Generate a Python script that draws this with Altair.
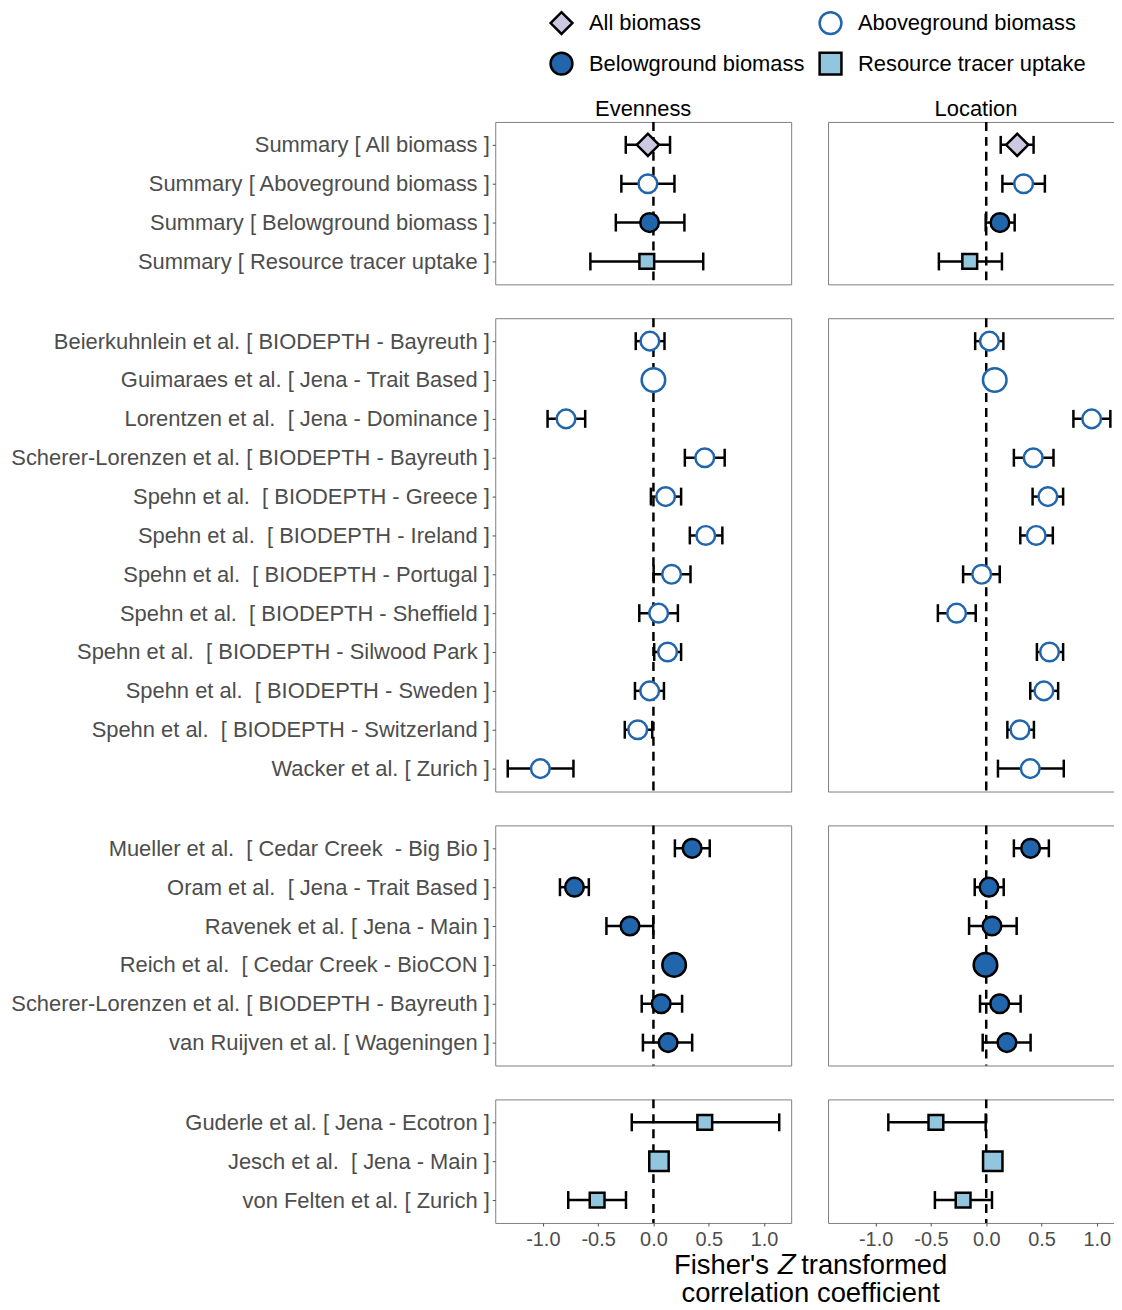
import altair as alt
import pandas as pd

FONT = "Liberation Sans"
SP2 = "\u00a0 "  # keeps the double spaces of the original labels

TYPES = ["All biomass", "Aboveground biomass", "Belowground biomass", "Resource tracer uptake"]
SHAPES = ["diamond", "circle", "circle", "square"]
FILLS = ["#cbc9e2", "#ffffff", "#2166ac", "#92c5de"]
STROKES = ["#000000", "#2166ac", "#000000", "#000000"]

# ---- Group 1: summaries ----
g1_labels = [
    "Summary [ All biomass ]",
    "Summary [ Aboveground biomass ]",
    "Summary [ Belowground biomass ]",
    "Summary [ Resource tracer uptake ]",
]
g1_types = ["All biomass", "Aboveground biomass", "Belowground biomass", "Resource tracer uptake"]
g1_even_est = [-0.05, -0.05, -0.035, -0.06]
g1_even_lo = [-0.25, -0.29, -0.34, -0.57]
g1_even_hi = [0.15, 0.19, 0.28, 0.45]
g1_loc_est = [0.28, 0.338, 0.124, -0.149]
g1_loc_lo = [0.131, 0.146, -0.005, -0.428]
g1_loc_hi = [0.428, 0.53, 0.257, 0.142]

# ---- Group 2: aboveground biomass studies ----
g2_labels = [
    "Beierkuhnlein et al. [ BIODEPTH - Bayreuth ]",
    "Guimaraes et al. [ Jena - Trait Based ]",
    "Lorentzen et al." + SP2 + "[ Jena - Dominance ]",
    "Scherer-Lorenzen et al. [ BIODEPTH - Bayreuth ]",
    "Spehn et al." + SP2 + "[ BIODEPTH - Greece ]",
    "Spehn et al." + SP2 + "[ BIODEPTH - Ireland ]",
    "Spehn et al." + SP2 + "[ BIODEPTH - Portugal ]",
    "Spehn et al." + SP2 + "[ BIODEPTH - Sheffield ]",
    "Spehn et al." + SP2 + "[ BIODEPTH - Silwood Park ]",
    "Spehn et al." + SP2 + "[ BIODEPTH - Sweden ]",
    "Spehn et al." + SP2 + "[ BIODEPTH - Switzerland ]",
    "Wacker et al. [ Zurich ]",
]
g2_types = ["Aboveground biomass"] * 12
g2_even_est = [-0.032, 0.0, -0.79, 0.464, 0.11, 0.473, 0.164, 0.047, 0.128, -0.034, -0.142, -1.022]
g2_even_lo = [-0.16, None, -0.957, 0.284, -0.023, 0.329, 0.002, -0.128, 0.007, -0.167, -0.259, -1.317]
g2_even_hi = [0.10, None, -0.617, 0.644, 0.25, 0.623, 0.335, 0.221, 0.25, 0.095, -0.011, -0.723]
g2_loc_est = [0.029, 0.077, 0.953, 0.425, 0.557, 0.452, -0.041, -0.268, 0.572, 0.521, 0.305, 0.398]
g2_loc_lo = [-0.10, None, 0.788, 0.25, 0.419, 0.308, -0.209, -0.437, 0.458, 0.398, 0.191, 0.106]
g2_loc_hi = [0.155, None, 1.122, 0.608, 0.695, 0.602, 0.122, -0.095, 0.695, 0.65, 0.431, 0.701]

# ---- Group 3: belowground biomass studies ----
g3_labels = [
    "Mueller et al." + SP2 + "[ Cedar Creek" + SP2 + "- Big Bio ]",
    "Oram et al." + SP2 + "[ Jena - Trait Based ]",
    "Ravenek et al. [ Jena - Main ]",
    "Reich et al." + SP2 + "[ Cedar Creek - BioCON ]",
    "Scherer-Lorenzen et al. [ BIODEPTH - Bayreuth ]",
    "van Ruijven et al. [ Wageningen ]",
]
g3_types = ["Belowground biomass"] * 6
g3_even_est = [0.35, -0.714, -0.212, 0.187, 0.07, 0.133]
g3_even_lo = [0.194, -0.845, -0.425, None, -0.106, -0.095]
g3_even_hi = [0.509, -0.584, -0.002, None, 0.259, 0.35]
g3_loc_est = [0.401, 0.025, 0.052, -0.007, 0.122, 0.187]
g3_loc_lo = [0.25, -0.104, -0.155, None, -0.056, -0.032]
g3_loc_hi = [0.566, 0.158, 0.275, None, 0.311, 0.401]

# ---- Group 4: resource tracer uptake studies ----
g4_labels = [
    "Guderle et al. [ Jena - Ecotron ]",
    "Jesch et al." + SP2 + "[ Jena - Main ]",
    "von Felten et al. [ Zurich ]",
]
g4_types = ["Resource tracer uptake"] * 3
g4_even_est = [0.464, 0.05, -0.509]
g4_even_lo = [-0.196, None, -0.77]
g4_even_hi = [1.137, None, -0.248]
g4_loc_est = [-0.455, 0.059, -0.209]
g4_loc_lo = [-0.885, None, -0.464]
g4_loc_hi = [-0.005, None, 0.052]

TICKS = [-1.0, -0.5, 0.0, 0.5, 1.0]
X_DOMAIN = [-1.43, 1.245]

SIZE_EXPR = (
    "datum.type == 'All biomass' ? 500 : "
    "datum.type == 'Resource tracer uptake' ? (isValid(datum.lo) ? 220 : 380) : "
    "(isValid(datum.lo) ? 350 : 560)"
)


def panel(labels, types, est, lo, hi, left, title, bottom):
    n = len(labels)
    df = pd.DataFrame({"label": labels, "type": types, "est": est, "lo": lo, "hi": hi})
    height = 39 * (n - 1) + 46
    xscale = alt.Scale(domain=X_DOMAIN, nice=False, zero=False)
    if bottom:
        xaxis = alt.Axis(
            values=TICKS, title=None, grid=False, domain=False,
            labelExpr="replace(format(datum.value, '.1f'), '\u2212', '-')",
            labelFontSize=20, labelColor="#4d4d4d", tickColor="#4d4d4d",
            tickSize=3, labelPadding=4, labelFont=FONT,
        )
    else:
        xaxis = None
    if left:
        yaxis = alt.Axis(
            title=None, grid=False, domain=False, labelFontSize=22,
            labelColor="#4d4d4d", tickColor="#4d4d4d", tickSize=3,
            labelPadding=3, minExtent=488, maxExtent=488, labelLimit=600,
            labelFont=FONT,
        )
    else:
        yaxis = None
    y = alt.Y("label:N", sort=labels, scale=alt.Scale(type="point", padding=23 / 39), axis=yaxis)

    base = alt.Chart(df)
    zero = alt.Chart(pd.DataFrame({"z": [0.0]})).mark_rule(
        strokeDash=[9, 6], strokeWidth=2.5, color="black"
    ).encode(x=alt.X("z:Q", scale=xscale, axis=xaxis))
    withci = base.transform_filter("isValid(datum.lo)")
    ci = withci.mark_rule(strokeWidth=2.5, color="black").encode(
        x=alt.X("lo:Q", scale=xscale, axis=xaxis), x2="hi:Q", y=y
    )
    cap_lo = withci.mark_tick(size=18, thickness=2.5, color="black", opacity=1).encode(
        x=alt.X("lo:Q", scale=xscale, axis=xaxis), y=y
    )
    cap_hi = withci.mark_tick(size=18, thickness=2.5, color="black", opacity=1).encode(
        x=alt.X("hi:Q", scale=xscale, axis=xaxis), y=y
    )
    pts = base.transform_calculate(sz=SIZE_EXPR).mark_point(
        filled=True, opacity=1, strokeWidth=2.5
    ).encode(
        x=alt.X("est:Q", scale=xscale, axis=xaxis),
        y=y,
        shape=alt.Shape("type:N", scale=alt.Scale(domain=TYPES, range=SHAPES), title=None),
        fill=alt.Fill("type:N", scale=alt.Scale(domain=TYPES, range=FILLS), title=None),
        stroke=alt.Stroke("type:N", scale=alt.Scale(domain=TYPES, range=STROKES), title=None),
        size=alt.Size("sz:Q", scale=None, legend=None),
    )
    ch = alt.layer(zero, ci, cap_lo, cap_hi, pts).properties(width=297, height=height)
    if title:
        ch = ch.properties(
            title=alt.Title(title, fontSize=22, fontWeight="normal", color="black", font=FONT, offset=0)
        )
    return ch


groups = [
    (g1_labels, g1_types, g1_even_est, g1_even_lo, g1_even_hi, g1_loc_est, g1_loc_lo, g1_loc_hi),
    (g2_labels, g2_types, g2_even_est, g2_even_lo, g2_even_hi, g2_loc_est, g2_loc_lo, g2_loc_hi),
    (g3_labels, g3_types, g3_even_est, g3_even_lo, g3_even_hi, g3_loc_est, g3_loc_lo, g3_loc_hi),
    (g4_labels, g4_types, g4_even_est, g4_even_lo, g4_even_hi, g4_loc_est, g4_loc_lo, g4_loc_hi),
]

rows = []
for i, g in enumerate(groups):
    labels, types, ee, el, eh, le, ll, lh = g
    top = i == 0
    bottom = i == len(groups) - 1
    left_p = panel(labels, types, ee, el, eh, True, "Evenness" if top else None, bottom)
    right_p = panel(labels, types, le, ll, lh, False, "Location" if top else None, bottom)
    rows.append(alt.hconcat(left_p, right_p, spacing=35))

chart = alt.vconcat(*rows, spacing=30).properties(
    # the right edge of the Location panels is cut off as in the original figure
    padding={"left": 0, "top": 0, "right": -11, "bottom": 0},
    title=alt.Title(
        ["Fisher's \U0001D44D transformed", "correlation coefficient"],
        orient="bottom", anchor="middle", fontSize=27.5, fontWeight="normal",
        color="black", font=FONT, dx=245, lineHeight=28, offset=2,
    ),
).configure_view(
    stroke="#808080", strokeWidth=1
).configure_legend(
    orient="none", legendX=54, legendY=-112, columns=2, direction="horizontal",
    labelFontSize=22, labelFont=FONT, labelColor="black", labelLimit=400,
    symbolSize=480, symbolStrokeWidth=2.5, rowPadding=8, columnPadding=9,
    labelOffset=15, padding=0,
)

chart.save("out.html", embed_options={"renderer": "svg", "actions": False})
